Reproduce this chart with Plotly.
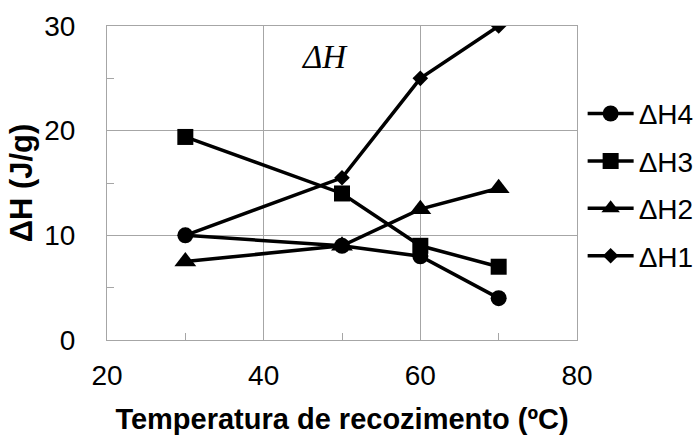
import plotly.graph_objects as go

# Annealing temperature (ºC)
temperatura = [30, 50, 60, 70]

# Enthalpy of each melting event (J/g)
dh4 = [10.0, 9.0, 8.0, 4.0]
dh3 = [19.4, 14.0, 9.0, 7.0]
dh2 = [7.5, 9.0, 12.5, 14.5]
dh1 = [10.0, 15.5, 25.0, 30.0]

series = [
    ("ΔH4", dh4, "circle", 16),
    ("ΔH3", dh3, "square", 16),
    ("ΔH2", dh2, "triangle-up", 19),
    ("ΔH1", dh1, "diamond", 12),
]

fig = go.Figure()
for i, (name, vals, symbol, size) in enumerate(series):
    fig.add_trace(go.Scatter(
        x=temperatura, y=vals, name=name, mode="lines+markers",
        line=dict(color="black", width=3.5),
        marker=dict(symbol=symbol, size=size, color="black"),
        legendgroup=f"g{i}",
    ))

grid = "#a6a6a6"
axis_font = dict(family="Arial, Liberation Sans, sans-serif", size=28, color="black")

fig.update_layout(
    width=700, height=435,
    margin=dict(l=107, r=123, t=26, b=95, autoexpand=False),
    paper_bgcolor="white", plot_bgcolor="white",
    font=axis_font,
    showlegend=True,
    legend=dict(
        x=1.012, xanchor="left", y=0.80, yanchor="top",
        font=dict(family="Arial, Liberation Sans, sans-serif", size=28, color="black"),
        traceorder="grouped", tracegroupgap=8, itemwidth=46,
        bgcolor="rgba(0,0,0,0)",
    ),
    annotations=[dict(
        x=47.8, y=27.0, xref="x", yref="y", text="<i>ΔH</i>", showarrow=False,
        font=dict(family="Liberation Serif, Times New Roman, serif", size=33, color="black"),
    )],
)

fig.update_xaxes(
    range=[20, 80], dtick=20, tick0=20,
    showgrid=True, gridcolor=grid, gridwidth=1,
    showline=True, linecolor=grid, linewidth=1, mirror=True,
    ticks="", ticklabelstandoff=10, zeroline=False,
    minor=dict(dtick=10, ticks="inside", ticklen=7, tickcolor=grid, showgrid=False),
    title=dict(text="<b>Temperatura de recozimento (ºC)</b>",
               font=dict(family="Arial, Liberation Sans, sans-serif", size=29, color="black"),
               standoff=27),
)
fig.update_yaxes(
    range=[0, 30], dtick=10,
    showgrid=True, gridcolor=grid, gridwidth=1,
    showline=True, linecolor=grid, linewidth=1, mirror=True,
    ticks="", ticklabelstandoff=25, zeroline=False,
    minor=dict(dtick=5, ticks="inside", ticklen=7, tickcolor=grid, showgrid=False),
    title=dict(text="<b>ΔH (J/g)</b>",
               font=dict(family="Arial, Liberation Sans, sans-serif", size=31, color="black"),
               standoff=2),
)

fig.write_html("out.html")
